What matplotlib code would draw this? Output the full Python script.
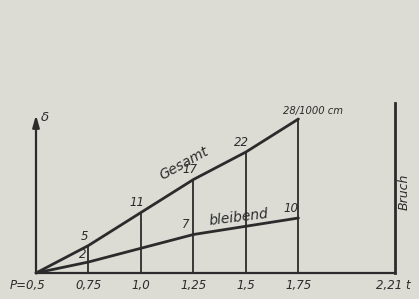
import matplotlib
matplotlib.use("Agg")
import matplotlib.pyplot as plt

# Data (load P in t, deflection delta in 1/1000 cm)
P = [0.5, 0.75, 1.0, 1.25, 1.5, 1.75]
gesamt = [0, 5, 11, 17, 22, 28]
bleibend = [0, 2, 4.5, 7, 8.5, 10]
gesamt_labels = ["", "5", "11", "17", "22", "28/1000 cm"]
bleibend_labels = {0.75: "2", 1.25: "7", 1.75: "10"}
tick_pos = [0.5, 0.75, 1.0, 1.25, 1.5, 1.75, 2.21]
tick_labels = ["P=0,5", "0,75", "1,0", "1,25", "1,5", "1,75", "2,21 t"]
P_bruch = 2.21

bg = "#dcdcd5"
ink = "#2b2b2b"

fig = plt.figure(figsize=(4.19, 2.99), dpi=100, facecolor=bg)
ax = fig.add_axes([0, 0, 1, 1])
ax.set_facecolor(bg)
for s in ax.spines.values():
    s.set_visible(False)
ax.set_xticks([]); ax.set_yticks([])

xs = 359 / 1.71      # px per t
ys = 5.5             # px per 1/1000 cm
ax.set_xlim(0.5 - 36 / xs, 2.21 + 24 / xs)
ax.set_ylim(-26 / ys, 273 / ys)

lw = 1.6
font = dict(family="DejaVu Sans", style="italic", color=ink)

# baseline
ax.plot([P[0], P_bruch], [0, 0], color=ink, lw=lw, solid_capstyle="butt")
# Bruch line
ax.plot([P_bruch, P_bruch], [0, 170 / ys], color=ink, lw=lw + 0.4)
ax.text(P_bruch + 9 / xs, 81 / ys, "Bruch", rotation=90, ha="center", va="center",
        fontsize=9, **font)
# delta axis with arrow
ax.annotate("", xy=(P[0], 158 / ys), xytext=(P[0], 0),
            arrowprops=dict(arrowstyle="-|>,head_length=0.7,head_width=0.2",
                            color=ink, lw=lw, shrinkA=0, shrinkB=0))
ax.text(P[0] + 5 / xs, 155 / ys, "δ", ha="left", va="center", fontsize=9.5, **font)

# vertical lines at each load step
for p, g in zip(P[1:], gesamt[1:]):
    ax.plot([p, p], [0, g], color=ink, lw=lw - 0.3)

# curves
ax.plot(P, gesamt, color=ink, lw=lw + 0.4, solid_capstyle="round")
ax.plot(P, bleibend, color=ink, lw=lw + 0.4, solid_capstyle="round")

# point labels
for p, g, lab in zip(P, gesamt, gesamt_labels):
    if not lab:
        continue
    if "/" in lab:
        ax.text(p - 15 / xs, g + 3 / ys, lab, ha="left", va="bottom", fontsize=8,
                fontstretch="condensed", **font)
    else:
        ax.text(p - 4 / xs, g + 3 / ys, lab, ha="center", va="bottom", fontsize=8.5, **font)
for p, lab in bleibend_labels.items():
    g = bleibend[P.index(p)]
    if p == 0.75:
        ax.text(p - 6 / xs, g + 1 / ys, lab, ha="center", va="bottom", fontsize=8.5, **font)
    else:
        ax.text(p - 8 / xs, g + 3 / ys, lab, ha="center", va="bottom", fontsize=8.5, **font)

ax.text(1.0 + 43 / xs, 110 / ys, "Gesamt", rotation=29, ha="center", va="center",
        fontsize=10, **font)
ax.text(1.5 - 7 / xs, 56 / ys, "bleibend", rotation=7, ha="center", va="center",
        fontsize=10, **font)

# tick labels
for t, lab in zip(tick_pos, tick_labels):
    dx = -8 / xs if t == 0.5 else (-2 / xs if t == 2.21 else 0)
    ax.text(t + dx, -13 / ys, lab, ha="center", va="center", fontsize=8.5, **font)

fig.savefig("out.png", dpi=100, facecolor=bg)
